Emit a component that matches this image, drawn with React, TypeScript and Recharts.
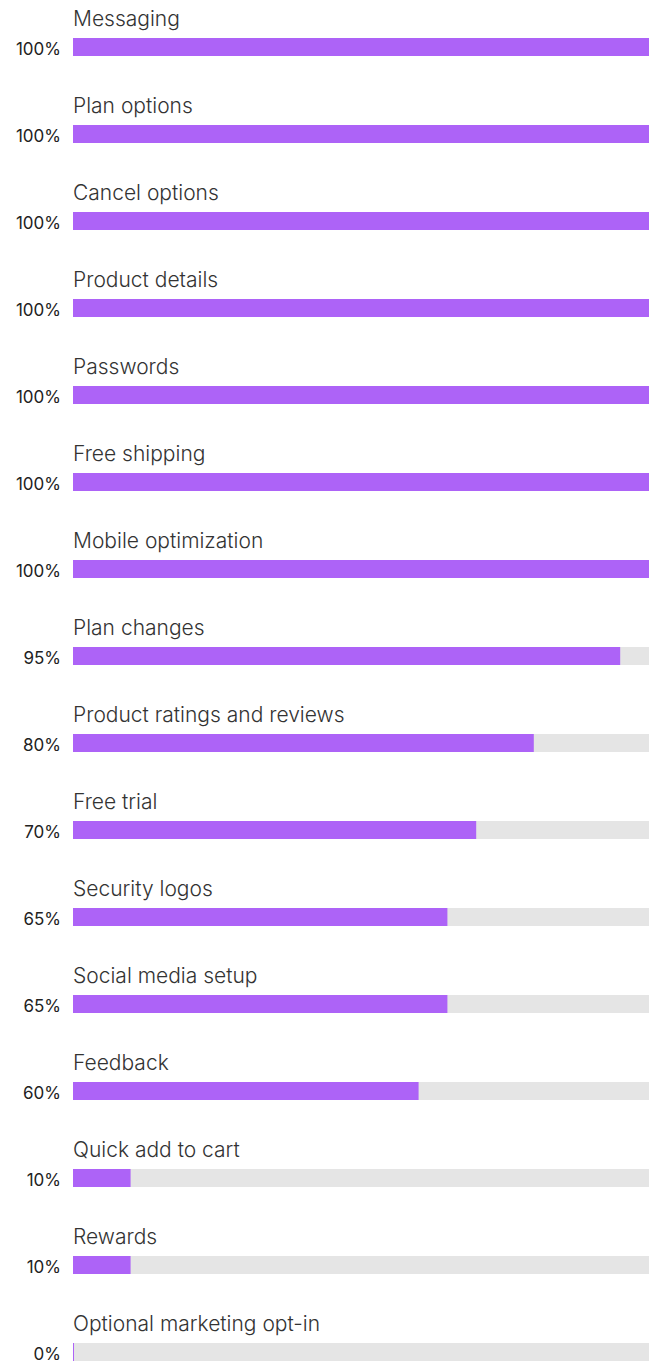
import { BarChart, Bar, XAxis, YAxis } from "recharts"

const features = [
  "Messaging",
  "Plan options",
  "Cancel options",
  "Product details",
  "Passwords",
  "Free shipping",
  "Mobile optimization",
  "Plan changes",
  "Product ratings and reviews",
  "Free trial",
  "Security logos",
  "Social media setup",
  "Feedback",
  "Quick add to cart",
  "Rewards",
  "Optional marketing opt-in",
]

const shares = [100, 100, 100, 100, 100, 100, 100, 95, 80, 70, 65, 65, 60, 10, 10, 0]

const PURPLE = "#ad63f7"
const TRACK = "#e5e5e5"

const chartData = features.map((name, i) => ({ name, value: shares[i] }))

function FeatureTick(props: any) {
  const { y, payload, index } = props
  const v = shares[payload.index ?? index] ?? 0
  return (
    <g>
      <text
        x={73}
        y={y - 21}
        fill="#333"
        fontSize={21}
        fontWeight={300}
        fontFamily="Inter, sans-serif"
      >
        {payload.value}
      </text>
      <text
        x={61}
        y={y + 8}
        textAnchor="end"
        fill="#222"
        fontSize={17}
        fontFamily="Inter, sans-serif"
      >
        {v}%
      </text>
    </g>
  )
}

export default function App() {
  return (
    <div
      style={{
        position: "absolute",
        left: 0,
        top: 0,
        width: 657,
        height: 1361,
        overflow: "hidden",
        background: "#fff",
      }}
    >
      <BarChart
        width={657}
        height={1400}
        data={chartData}
        layout="vertical"
        margin={{ top: 3, right: 8, bottom: 5, left: 0 }}
      >
        <XAxis type="number" domain={[0, 100]} hide />
        <YAxis
          type="category"
          dataKey="name"
          width={73}
          axisLine={false}
          tickLine={false}
          tick={<FeatureTick />}
          interval={0}
        />
        <Bar
          dataKey="value"
          fill={PURPLE}
          barSize={18}
          minPointSize={1}
          background={{ fill: TRACK }}
          isAnimationActive={false}
        />
      </BarChart>
    </div>
  )
}
